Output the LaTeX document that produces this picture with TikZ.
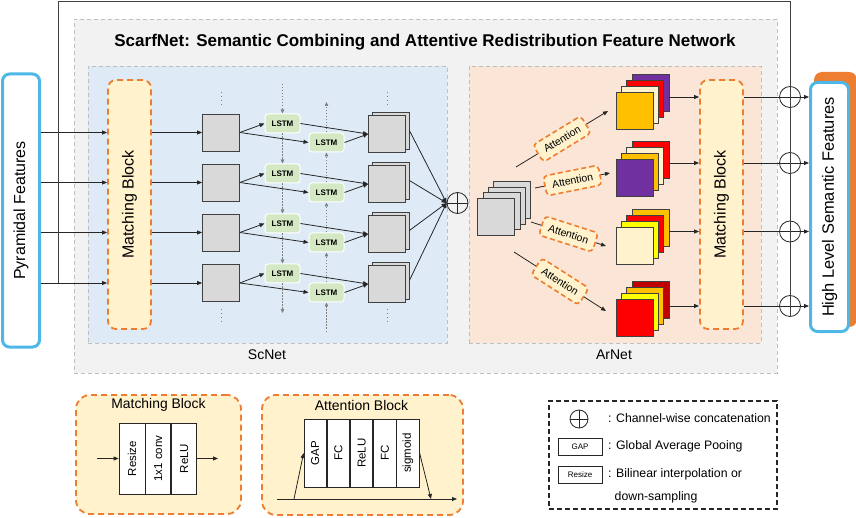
\documentclass[tikz,border=0pt]{standalone}
\usepackage{fontspec}
\usepackage{graphicx}
\setmainfont{Liberation Sans}
\usetikzlibrary{arrows.meta}
\definecolor{sqgray}{HTML}{D9D9D9}
\definecolor{lstmg}{HTML}{D5E8C4}
\definecolor{cream}{HTML}{FFF2CC}
\definecolor{orD}{HTML}{ED7D31}
\definecolor{blueB}{HTML}{4DB8E8}
\definecolor{bgGray}{HTML}{F2F2F2}
\definecolor{bgBlue}{HTML}{DEEBF7}
\definecolor{bgPeach}{HTML}{FBE5D6}
\definecolor{dashG}{HTML}{BFBFBF}
\definecolor{cOr}{HTML}{FFC000}
\definecolor{cRd}{HTML}{FF0000}
\definecolor{cPu}{HTML}{7030A0}
\definecolor{cYe}{HTML}{FFFF00}
\definecolor{cDr}{HTML}{C00000}
\definecolor{cCr}{HTML}{FFF2CC}
\tikzset{
  arr/.style={-{Triangle[length=5pt,width=4pt]}, line width=0.8pt, draw=black!85},
  ln/.style={line width=0.8pt, draw=black!85},
  varr/.style={-{Triangle[length=4pt,width=3.5pt]}, draw=gray, dash pattern=on 1.5pt off 1.5pt, line width=0.7pt},
  vdot/.style={draw=gray, dash pattern=on 1pt off 3pt, line width=0.9pt},
  cont/.style={draw=dashG, dash pattern=on 4pt off 3pt, line width=0.9pt, inner sep=0pt},
  gsq/.style={draw=black!75, fill=sqgray, minimum size=37pt, inner sep=0pt, line width=0.8pt},
  csq/.style={draw=black!75, minimum size=37pt, inner sep=0pt, line width=0.8pt},
  lstm/.style={draw=white, line width=1pt, fill=lstmg, rounded corners=3pt, minimum width=35pt, minimum height=19pt, inner sep=0pt, font=\bfseries\fontsize{8}{9}\selectfont},
  mblock/.style={draw=orD, dash pattern=on 6pt off 4pt, line width=1.8pt, fill=cream, rounded corners=8pt, inner sep=0pt, minimum width=43pt, minimum height=249pt, font=\fontsize{16}{18}\selectfont},
  att/.style={draw=orD, dash pattern=on 5pt off 3pt, line width=1.6pt, fill=cream, rounded corners=4pt, inner sep=0pt, minimum width=56pt, minimum height=20pt, font=\fontsize{10.5}{12}\selectfont, sloped},
  oplus/.style={circle, draw=black!85, line width=0.8pt, minimum size=21pt, inner sep=0pt,
    path picture={\draw[line width=0.8pt] (path picture bounding box.north) -- (path picture bounding box.south) (path picture bounding box.west) -- (path picture bounding box.east);}},
  sidebox/.style={line width=3pt, draw=blueB, fill=white, rounded corners=7pt, inner sep=0pt},
  lgbox/.style={draw=orD, dash pattern=on 6pt off 4pt, line width=1.8pt, fill=cream, rounded corners=14pt, inner sep=0pt},
  cell/.style={draw=black!85, line width=0.8pt, fill=white, inner sep=0pt, font=\fontsize{11.5}{13}\selectfont},
  lgtxt/.style={anchor=west, inner sep=0pt, font=\fontsize{12.3}{14}\selectfont},
  smallbox/.style={draw=black!85, line width=0.8pt, fill=white, minimum width=44pt, minimum height=17pt, inner sep=0pt, font=\fontsize{8}{9}\selectfont}
}
\begin{document}
\begin{tikzpicture}[x=1pt,y=-1pt]
\useasboundingbox (0,0) rectangle (856,518);

% containers
\node[cont, fill=bgGray, minimum width=703pt, minimum height=354pt] (scarf) at (425.5,196) {};
\node[cont, fill=bgBlue, minimum width=359pt, minimum height=277pt] (scnet) at (267.5,204.5) {};
\node[cont, fill=bgPeach, minimum width=292pt, minimum height=277pt] (arnet) at (615,204.5) {};
\node[font=\bfseries\fontsize{17}{19}\selectfont] (title) at (425,42) {ScarfNet: Semantic Combining and Attentive Redistribution Feature Network};
\node[font=\fontsize{14}{16}\selectfont] (sclab) at (267,355) {ScNet};
\node[font=\fontsize{14}{16}\selectfont] (arlab) at (614,355) {ArNet};

% side boxes
\node[sidebox, minimum width=37pt, minimum height=273pt, font=\fontsize{16}{18}\selectfont] (pf) at (21,210.5) {\rotatebox{90}{Pyramidal Features}};
\node[rounded corners=8pt, fill=orD, minimum width=43pt, minimum height=255pt, inner sep=0pt] (hlsh) at (835.5,199.5) {};
\node[sidebox, minimum width=38pt, minimum height=249pt, font=\fontsize{16.4}{18}\selectfont] (hl) at (829.5,207) {\rotatebox{90}{High Level Semantic Features}};

% matching blocks
\node[mblock] (mbL) at (129.5,204.5) {\rotatebox{90}{Matching Block}};
\node[mblock] (mbR) at (721.5,204.5) {\rotatebox{90}{Matching Block}};

% ScNet rows
\foreach \i/\y in {1/132.5,2/182.5,3/232.5,4/283}{
  \node[gsq] (sq\i) at (221,\y) {};
}
\foreach \i/\y in {1/134,2/184,3/234,4/284}{
  \node[gsq] (stb\i) at (390.5,\y-3.5) {};
  \node[gsq] (stf\i) at (387,\y) {};
}
\foreach \i/\y in {1/123.5,2/173.5,3/223.5,4/273.5}{
  \node[lstm] (la\i) at (282.5,\y) {LSTM};
  \node[lstm] (lb\i) at (326.5,\y+19) {LSTM};
}
\foreach \i in {1,2,3,4}{
  \draw[arr] (pf.east |- sq\i) -- (mbL.west |- sq\i);
  \draw[arr] (mbL.east |- sq\i) -- (sq\i.west);
  \draw[arr] (sq\i.east) -- (la\i.west);
  \draw[arr] (sq\i.east) -- (lb\i.west);
  \draw[arr] (la\i.east) -- (stf\i.west);
  \draw[arr] (lb\i.east) -- (stf\i.west);
}
% vertical recurrent arrows
\coordinate (vta) at (282.5,84);
\coordinate (vba) at (282.5,313);
\coordinate (vtb) at (326.5,102);
\coordinate (vbb) at (326.5,332);
\draw[varr] (vta) -- (la1.north);
\draw[varr] (la1.south) -- (la2.north);
\draw[varr] (la2.south) -- (la3.north);
\draw[varr] (la3.south) -- (la4.north);
\draw[varr] (la4.south) -- (vba);
\draw[varr] (vbb) -- (lb4.south);
\draw[varr] (lb4.north) -- (lb3.south);
\draw[varr] (lb3.north) -- (lb2.south);
\draw[varr] (lb2.north) -- (lb1.south);
\draw[varr] (lb1.north) -- (vtb);
% continuation dots
\draw[vdot] (221,92) -- (221,106);
\draw[vdot] (221,309) -- (221,323);
\draw[vdot] (387,92) -- (387,106);
\draw[vdot] (387,309) -- (387,323);

% concatenation
\node[oplus] (cc) at (457.5,203) {};
\foreach \i in {1,2,3,4}{
  \draw[arr] (stb\i.east) -- (cc.west);
}

% ArNet gray stack
\node[gsq] (g4) at (512.2,199.7) {};
\node[gsq] (g3) at (506.9,205.5) {};
\node[gsq] (g2) at (501.6,211.4) {};
\node[gsq] (g1) at (496.3,217.2) {};

% coloured stacks
\foreach \n/\y/\ca/\cb/\cc/\cd in {1/110.5/cOr/cCr/cRd/cPu, 2/178/cPu/cOr/cCr/cRd, 3/245.5/cCr/cYe/cRd/cOr, 4/318/cRd/cYe/cOr/cDr}{
  \node[csq, fill=\cd] (sd\n) at (650.4,\y-17.7) {};
  \node[csq, fill=\cc] (sc\n) at (645.1,\y-11.8) {};
  \node[csq, fill=\cb] (sb\n) at (639.8,\y-5.9) {};
  \node[csq, fill=\ca] (sa\n) at (634.5,\y) {};
}

% attention branches
\coordinate (a1s) at (516,167);   \coordinate (a1e) at (608,111);
\coordinate (a2s) at (535,188);   \coordinate (a2e) at (610,173);
\coordinate (a3s) at (531,222);   \coordinate (a3e) at (606,246);
\coordinate (a4s) at (514,252);   \coordinate (a4e) at (606,311);
\draw[arr] (a1s) -- node[att] (at1) {Attention} (a1e);
\draw[arr] (a2s) -- node[att] (at2) {Attention} (a2e);
\draw[arr] (a3s) -- node[att] (at3) {Attention} (a3e);
\draw[arr] (a4s) -- node[att] (at4) {Attention} (a4e);

% output concatenations
\node[oplus] (c1) at (790,97) {};
\node[oplus] (c2) at (790,163) {};
\node[oplus] (c3) at (790,231.5) {};
\node[oplus] (c4) at (790,306) {};
\foreach \i in {1,2,3,4}{
  \draw[arr] (sd\i.east |- c\i) -- (mbR.west |- c\i);
  \draw[arr] (mbR.east |- c\i) -- (hl.west |- c\i);
}

% skip frame
\coordinate (ftl) at (58,1);
\coordinate (ftr) at (790,1);
\draw[line width=0.9pt, draw=black!75] (ftl |- sq4) -- (ftl) -- (ftr) -- (c4.south);

% legend: matching block
\node[lgbox, minimum width=165pt, minimum height=119pt] (lgm) at (158.5,454.5) {};
\node[font=\fontsize{13.9}{16}\selectfont] (lgmt) at (158.5,405) {Matching Block};
\node[cell, minimum width=26pt, minimum height=71pt] (mc1) at (132,458.5) {\rotatebox{90}{Resize}};
\node[cell, minimum width=25pt, minimum height=71pt, anchor=west] (mc2) at (mc1.east) {\rotatebox{90}{1x1 conv}};
\node[cell, minimum width=25pt, minimum height=71pt, anchor=west] (mc3) at (mc2.east) {\rotatebox{90}{ReLU}};
\coordinate (mcin) at (97,458.5);
\coordinate (mcout) at (218,458.5);
\draw[arr] (mcin) -- (mc1.west);
\draw[arr] (mc3.east) -- (mcout);

% legend: attention block
\node[lgbox, minimum width=201pt, minimum height=120pt] (lga) at (362.5,455) {};
\node[font=\fontsize{14}{16}\selectfont] (lgat) at (361.5,405) {Attention Block};
\node[cell, minimum width=22.4pt, minimum height=68pt] (ac1) at (315.2,453) {\rotatebox{90}{GAP}};
\node[cell, minimum width=22.4pt, minimum height=68pt, anchor=west] (ac2) at (ac1.east) {\rotatebox{90}{FC}};
\node[cell, minimum width=22.4pt, minimum height=68pt, anchor=west] (ac3) at (ac2.east) {\rotatebox{90}{ReLU}};
\node[cell, minimum width=22.4pt, minimum height=68pt, anchor=west] (ac4) at (ac3.east) {\rotatebox{90}{FC}};
\node[cell, minimum width=22.4pt, minimum height=68pt, anchor=west] (ac5) at (ac4.east) {\rotatebox{90}{sigmoid}};
\coordinate (abs) at (277,499);
\coordinate (abe) at (457,499);
\coordinate (abu) at (294,499);
\coordinate (abd) at (431,499);
\draw[arr] (abs) -- (abe);
\draw[arr] (abu) -- (ac1.west);
\draw[arr] (ac5.east) -- (abd);

% legend: symbols
\node[draw=black!85, dash pattern=on 5pt off 3pt, line width=1.1pt, minimum width=228pt, minimum height=108pt, inner sep=0pt] (lgk) at (663,455) {};
\node[oplus, minimum size=18pt] (lgc) at (579,419) {};
\node[lgtxt] (lt1) at (608,418) {: Channel-wise concatenation};
\node[smallbox] (lgg) at (580,446.5) {GAP};
\node[lgtxt] (lt2) at (608,446.5) {: Global Average Pooing};
\node[smallbox] (lgr) at (580,474.5) {Resize};
\node[lgtxt] (lt3) at (608,474) {: Bilinear interpolation or};
\node[lgtxt] (lt4) at (614.5,497) {down-sampling};
\end{tikzpicture}
\end{document}
